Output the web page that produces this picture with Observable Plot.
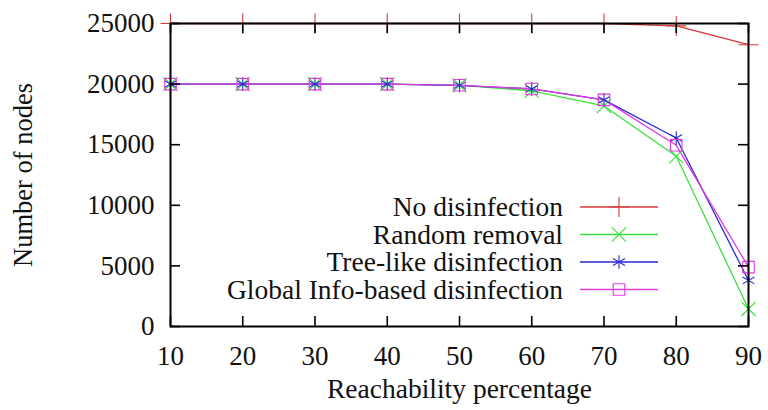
<!DOCTYPE html>
<html><head><meta charset="utf-8">
<script src="https://cdn.jsdelivr.net/npm/d3@7"></script>
<script src="https://cdn.jsdelivr.net/npm/@observablehq/plot@0.6"></script>
<style>
body{margin:0;background:#fff;}
#wrap{position:relative;width:768px;height:410px;}
#wrap svg.overlay{position:absolute;left:0;top:0;pointer-events:none;}
</style></head><body><div id="wrap"></div>
<script>
const reach = [10, 20, 30, 40, 50, 60, 70, 80, 90];
const noDisinfection = [25000, 25000, 25000, 25000, 25000, 25000, 25000, 24800, 23250];
const randomRemoval = [20000, 20000, 20000, 20000, 19900, 19450, 18200, 14050, 1450];
const treeLike = [20000, 20000, 20000, 20000, 19900, 19600, 18700, 15550, 3800];
const globalInfo = [20000, 20000, 20000, 20000, 19900, 19600, 18700, 14950, 4900];
const seriesNames = ["No disinfection", "Random removal", "Tree-like disinfection", "Global Info-based disinfection"];
const seriesColors = ["#d83a3a", "#3ce03c", "#2a2ad0", "#e03ce0"];
const seriesSymbols = ["plus", "times", "asterisk", "square"];
const xTicks = [10, 20, 30, 40, 50, 60, 70, 80, 90];
const yTicks = [0, 5000, 10000, 15000, 20000, 25000];
const xTitle = "Reachability percentage";
const yTitle = "Number of nodes";

const W = 768, H = 410;
const mL = 170, mR = 20, mT = 23, mB = 84;
const pw = W - mL - mR, ph = H - mT - mB, tick = 10;
const font = "'Liberation Serif', 'Times New Roman', 'DejaVu Serif', serif";

const allSeries = [noDisinfection, randomRemoval, treeLike, globalInfo];
const rows = [];
allSeries.forEach((vals, si) => vals.forEach((v, i) => rows.push({x: reach[i], y: v, s: seriesNames[si]})));

const chart = Plot.plot({
  width: W, height: H,
  marginLeft: mL, marginRight: mR, marginTop: mT, marginBottom: mB,
  style: {fontFamily: font, fontSize: "27px", color: "#111", background: "#fff", overflow: "visible"},
  x: {domain: [10, 90]},
  y: {domain: [0, 25000]},
  color: {domain: seriesNames, range: seriesColors},
  symbol: {domain: seriesNames, range: seriesSymbols},
  marks: [
    Plot.line(rows, {x: "x", y: "y", z: "s", stroke: "s", strokeWidth: 1.3}),
    Plot.dot(rows, {x: "x", y: "y", stroke: "s", symbol: "s", fill: "none", r: 6.5, strokeWidth: 1.1}),
    Plot.tickY(yTicks, {y: d => d, insetRight: pw - tick, stroke: "#000", strokeWidth: 1.6}),
    Plot.tickY(yTicks, {y: d => d, insetLeft: pw - tick, stroke: "#000", strokeWidth: 1.6}),
    Plot.tickX(xTicks, {x: d => d, insetTop: ph - tick, stroke: "#000", strokeWidth: 1.6}),
    Plot.tickX(xTicks, {x: d => d, insetBottom: ph - tick, stroke: "#000", strokeWidth: 1.6}),
    Plot.frame({stroke: "#000", strokeWidth: 2}),
    Plot.axisX(xTicks, {tickSize: 0, tickPadding: 19, label: null, fontSize: 27}),
    Plot.axisY(yTicks, {tickSize: 0, tickPadding: 16, label: null, fontSize: 27, tickFormat: d => String(d)}),
    Plot.text([xTitle], {text: d => d, frameAnchor: "bottom", textAnchor: "middle", lineAnchor: "bottom", dy: 71, fontSize: 27.5, fill: "#111"}),
    Plot.text([yTitle], {text: d => d, frameAnchor: "left", textAnchor: "middle", lineAnchor: "middle", rotate: -90, dx: -147, fontSize: 26.5, fill: "#111"})
  ]
});
document.getElementById("wrap").appendChild(chart);

// Legend overlay (inside plot area, gnuplot style)
const leg = d3.select("#wrap").append("svg").attr("class", "overlay")
  .attr("width", W).attr("height", H);
const symMap = {plus: d3.symbolPlus, times: d3.symbolTimes, asterisk: d3.symbolAsterisk, square: d3.symbolSquare};
const rowY = [207, 234.5, 262, 289.5];
seriesNames.forEach((name, i) => {
  const y = rowY[i];
  leg.append("text").attr("x", 563).attr("y", y).attr("dy", "0.33em")
    .attr("text-anchor", "end").attr("font-family", font).attr("font-size", 27.5).attr("fill", "#111")
    .text(name);
  leg.append("line").attr("x1", 580).attr("x2", 658).attr("y1", y).attr("y2", y)
    .attr("stroke", seriesColors[i]).attr("stroke-width", 1.3);
  leg.append("path").attr("transform", `translate(619,${y})`)
    .attr("d", d3.symbol(symMap[seriesSymbols[i]], Math.PI * 6.5 * 6.5)())
    .attr("fill", "none").attr("stroke", seriesColors[i]).attr("stroke-width", 1.1);
});
</script></body></html>
